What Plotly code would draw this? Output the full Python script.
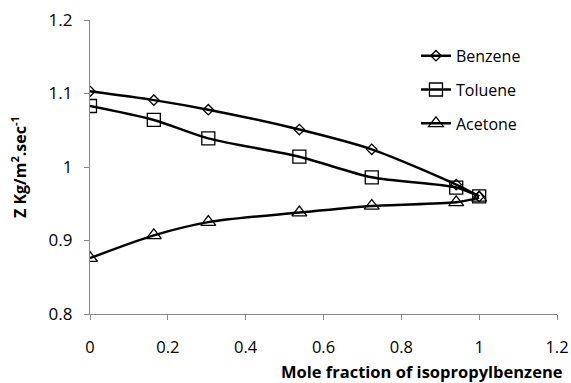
import plotly.graph_objects as go

x_vals = [0, 0.164, 0.304, 0.538, 0.724, 0.941, 1.0]
benzene = [1.103, 1.091, 1.078, 1.051, 1.024, 0.976, 0.960]
toluene = [1.083, 1.064, 1.039, 1.014, 0.986, 0.972, 0.960]
acetone = [0.876, 0.907, 0.925, 0.938, 0.947, 0.952, 0.958]

series = [
    ("Benzene", benzene, "diamond-open", 8),
    ("Toluene", toluene, "square-open", 13),
    ("Acetone", acetone, "triangle-up-open", 13),
]

font_family = "Open Sans, Arial, sans-serif"
axis_grey = "#878787"

fig = go.Figure()
for name, vals, sym, sz in series:
    fig.add_trace(go.Scatter(
        x=x_vals, y=vals, name=name, mode="lines+markers",
        line=dict(color="black", width=2.5, shape="spline", smoothing=0.8),
        marker=dict(symbol=sym, size=sz, color="black", line=dict(width=1.3, color="black")),
        legendgroup=name,
    ))

fig.update_layout(
    width=571, height=383,
    margin=dict(l=90, r=14, t=20, b=69, autoexpand=False),
    paper_bgcolor="white", plot_bgcolor="white",
    font=dict(family=font_family, size=16, color="black"),
    showlegend=True,
    legend=dict(x=0.698, y=0.936, xanchor="left", yanchor="top",
                bgcolor="rgba(0,0,0,0)", tracegroupgap=10,
                font=dict(size=16, family=font_family)),
    xaxis=dict(range=[0, 1.2], dtick=0.2, tick0=0, showgrid=False, zeroline=False,
               showline=True, linecolor=axis_grey, linewidth=1.3,
               ticks="outside", tickcolor=axis_grey, ticklen=5, tickwidth=1.3,
               tickfont=dict(size=16.5), ticklabelstandoff=13, automargin=False,
               ticklabeloverflow="allow"),
    yaxis=dict(range=[0.8, 1.2], dtick=0.1, tick0=0.8, showgrid=False, zeroline=False,
               showline=True, linecolor=axis_grey, linewidth=1.3,
               ticks="outside", tickcolor=axis_grey, ticklen=5, tickwidth=1.3,
               tickfont=dict(size=17), ticklabelstandoff=8, automargin=False,
               ticklabeloverflow="allow"),
)

fig.add_annotation(text="<b>Z Kg/m<sup>2</sup>.sec<sup>-1</sup></b>", xref="paper", yref="paper",
                   x=-0.152, y=0.5, xanchor="center", yanchor="middle", textangle=-90,
                   showarrow=False, font=dict(size=16, family=font_family))

fig.add_annotation(text="<b>Mole fraction of isopropylbenzene</b>", xref="paper", yref="paper",
                   x=1.017, y=-0.197, xanchor="right", yanchor="middle", showarrow=False,
                   font=dict(size=16.5, family=font_family))

fig.write_html("out.html",
               config={"displayModeBar": False},
               post_script="document.body.style.margin='0';document.body.style.overflow='hidden';")
